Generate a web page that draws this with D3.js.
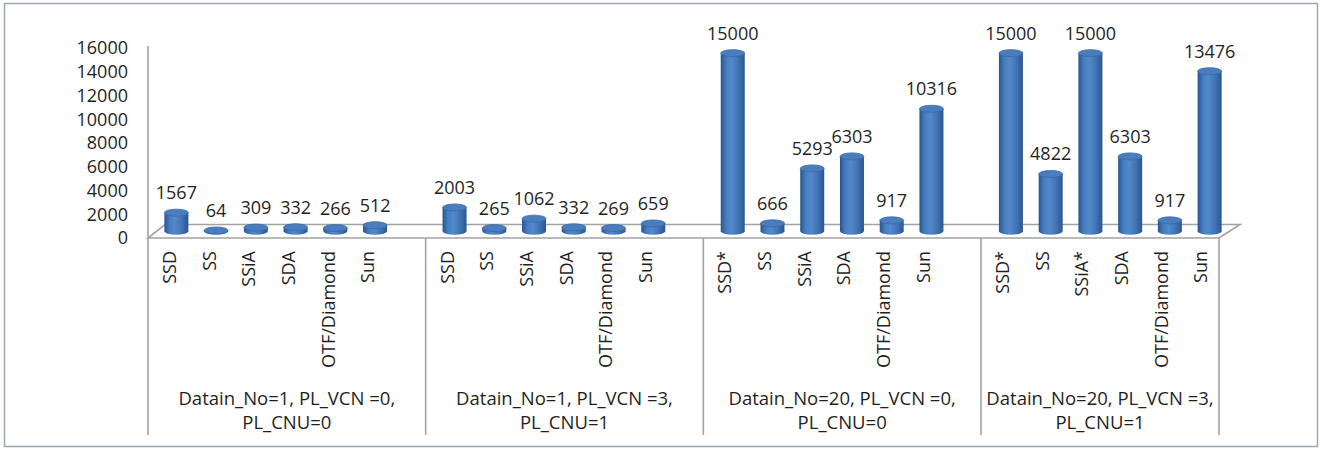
<!DOCTYPE html>
<html>
<head>
<meta charset="utf-8">
<script src="https://cdn.jsdelivr.net/npm/d3@7"></script>
<style>
  html, body { margin: 0; padding: 0; background: #fff; }
  svg { display: block; }
  text { font-family: "Open Sans", "Noto Sans", sans-serif; fill: #1f1f1f; }
</style>
</head>
<body>
<svg id="chart" width="1322" height="450"></svg>
<script>
// ---- data ----
const groupLabels = [
  ["Datain_No=1, PL_VCN =0,", "PL_CNU=0"],
  ["Datain_No=1, PL_VCN =3,", "PL_CNU=1"],
  ["Datain_No=20, PL_VCN =0,", "PL_CNU=0"],
  ["Datain_No=20, PL_VCN =3,", "PL_CNU=1"]
];
const categories1 = ["SSD", "SS", "SSiA", "SDA", "OTF/Diamond", "Sun"];
const categories2 = ["SSD", "SS", "SSiA", "SDA", "OTF/Diamond", "Sun"];
const categories3 = ["SSD*", "SS", "SSiA", "SDA", "OTF/Diamond", "Sun"];
const categories4 = ["SSD*", "SS", "SSiA*", "SDA", "OTF/Diamond", "Sun"];
const values1 = [1567, 64, 309, 332, 266, 512];
const values2 = [2003, 265, 1062, 332, 269, 659];
const values3 = [15000, 666, 5293, 6303, 917, 10316];
const values4 = [15000, 4822, 15000, 6303, 917, 13476];
const yTicks = [0, 2000, 4000, 6000, 8000, 10000, 12000, 14000, 16000];

const categoriesAll = [categories1, categories2, categories3, categories4];
const valuesAll = [values1, values2, values3, values4];

// build slots: 6 bars per group, a blank slot after each group except the last
const slots = [];
categoriesAll.forEach((cats, g) => {
  cats.forEach((c, i) => slots.push({ key: g + "-" + i, group: g, cat: c, value: valuesAll[g][i] }));
  if (g < categoriesAll.length - 1) slots.push({ key: g + "-blank", group: g, blank: true });
});

// ---- layout ----
const svg = d3.select("#chart");
const left = 148, right = 1219, floorY = 238, topY = 48;
const x = d3.scaleBand().domain(slots.map(d => d.key)).range([left, right]).padding(0);
const y = d3.scaleLinear().domain([0, 16000]).range([floorY, topY]);
const depthDx = px => 17 + 4 * (px - left) / (right - left);
const depthDy = -13.5;

// outer border
svg.append("rect").attr("x", 4.5).attr("y", 3.5).attr("width", 1313).attr("height", 443)
  .attr("fill", "#fff").attr("stroke", "#9aa6b2").attr("stroke-width", 1.5);

// gradient
const defs = svg.append("defs");
const grad = defs.append("linearGradient").attr("id", "cyl").attr("x1", "0").attr("x2", "1").attr("y1", "0").attr("y2", "0");
[[0, "#28548e"], [0.22, "#457dc0"], [0.45, "#5289ca"], [0.75, "#3f72b2"], [1, "#29568f"]]
  .forEach(([o, c]) => grad.append("stop").attr("offset", o).attr("stop-color", c));

// floor
const lineCol = "#a3a3a3";
const floor = svg.append("g").attr("fill", "none").attr("stroke", lineCol).attr("stroke-width", 1.6);
floor.append("path").attr("fill", "#fff").attr("d",
  `M${left},${floorY} L${right},${floorY} L${right + depthDx(right)},${floorY + depthDy} L${left + depthDx(left)},${floorY + depthDy} Z`);

// y axis line
svg.append("line").attr("x1", left).attr("x2", left).attr("y1", topY - 2).attr("y2", floorY)
  .attr("stroke", lineCol).attr("stroke-width", 1.6);

// y axis labels
const yAxis = d3.axisLeft(y).tickValues(yTicks).tickSize(0).tickPadding(0).tickFormat(d3.format("d"));
const ya = svg.append("g").attr("transform", `translate(128,0)`).call(yAxis);
ya.select(".domain").remove();
ya.selectAll("text").attr("font-size", 18).attr("fill", "#1f1f1f")
  .style("font-family", '"Open Sans", sans-serif');

// divider lines below the floor
const bottomY = 435;
const boundaries = [left];
slots.forEach((d, i) => { if (d.blank) boundaries.push(x(d.key) + x.bandwidth()); });
boundaries.push(right);
svg.append("g").selectAll("line").data(boundaries).join("line")
  .attr("x1", d => d).attr("x2", d => d).attr("y1", floorY).attr("y2", bottomY)
  .attr("stroke", lineCol).attr("stroke-width", 1.6);

// category labels (rotated)
const bars = slots.filter(d => !d.blank);
svg.append("g").selectAll("text").data(bars).join("text")
  .attr("transform", d => `translate(${x(d.key) + x.bandwidth() / 2 + 2},251) rotate(-90)`)
  .attr("text-anchor", "end").attr("dy", "0.35em").attr("font-size", 18)
  .text(d => d.cat);

// group labels (two lines in one text element)
groupLabels.forEach((lines, g) => {
  const cx = (boundaries[g] + boundaries[g + 1]) / 2;
  const t = svg.append("text").attr("text-anchor", "middle").attr("font-size", 18.5);
  lines.forEach((s, j) => {
    t.append("tspan").attr("x", cx).attr("y", 405 + j * 24).text(s);
  });
});

// cylinders
const rx = 12, ry = 3.5;
const barG = svg.append("g");
bars.forEach(d => {
  const sx = x(d.key) + x.bandwidth() / 2;
  const cx = sx + depthDx(sx) / 2;
  const baseY = floorY + depthDy / 2;
  const h = y(0) - y(d.value);
  const topC = baseY - h;
  const g = barG.append("g");
  g.append("path").attr("fill", "url(#cyl)").attr("d",
    `M${cx - rx},${topC} L${cx - rx},${baseY} A${rx},${ry} 0 0 0 ${cx + rx},${baseY} L${cx + rx},${topC} Z`);
  g.append("ellipse").attr("cx", cx).attr("cy", topC).attr("rx", rx).attr("ry", ry)
    .attr("fill", "#4a7dbd").attr("stroke", "#3a6aa6").attr("stroke-width", 0.8);
  g.append("text").attr("x", cx).attr("y", topC - 13.5).attr("text-anchor", "middle")
    .attr("font-size", 18).text(d3.format("d")(d.value));
});
</script>
</body>
</html>
